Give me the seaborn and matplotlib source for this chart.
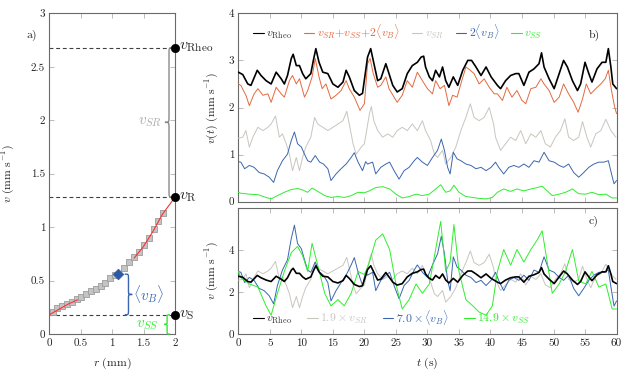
import numpy as np
import pandas as pd
import seaborn as sns
import matplotlib
matplotlib.use("Agg")
import matplotlib.pyplot as plt
from matplotlib.path import Path
from matplotlib.patches import PathPatch

# ---------------- data: panel a ----------------
r_squares = [0.06, 0.13, 0.21, 0.28, 0.36, 0.44, 0.51, 0.58, 0.66, 0.74, 0.82, 0.89,
             0.97, 1.05, 1.19, 1.27, 1.35, 1.42, 1.50, 1.58, 1.66, 1.73, 1.81]
v_squares = [0.21, 0.24, 0.26, 0.28, 0.30, 0.33, 0.35, 0.37, 0.40, 0.42, 0.45, 0.48,
             0.52, 0.55, 0.62, 0.67, 0.72, 0.77, 0.83, 0.90, 0.98, 1.06, 1.13]
fit_r_low = [0.0, 0.15, 0.30, 0.45]
fit_v_low = [0.18, 0.23, 0.28, 0.32]
fit_r_high = [1.35, 1.50, 1.65, 1.80, 1.90, 2.0]
fit_v_high = [0.71, 0.82, 0.96, 1.12, 1.20, 1.28]
r_vb, v_vb = 1.10, 0.56
r_wall = 2.0
v_rheo_a, v_R, v_S = 2.68, 1.28, 0.18

# ---------------- data: panels b, c ----------------
t_rheo = [0, 0.7, 1.5, 2.0, 3.0, 3.6, 4.4, 5.2, 6.0, 6.8, 7.3, 7.8, 8.4, 8.7, 9.2, 9.7,
          10.2, 10.7, 11.5, 11.9, 12.3, 12.8, 13.4, 14.2, 15.0, 15.8, 16.6, 17.1, 17.6,
          18.4, 19.2, 19.7, 20.5, 21.0, 21.4, 22.1, 22.6, 23.4, 23.9, 24.5, 25.2, 26.0,
          26.8, 27.6, 28.4, 29.0, 29.4, 29.7, 30.3, 30.8, 31.3, 31.9, 32.4, 32.9, 33.4,
          34.1, 34.8, 35.6, 36.4, 37.0, 37.7, 38.5, 39.3, 40.1, 41.1, 41.6, 42.4, 43.2,
          44.0, 44.5, 45.3, 46.1, 46.9, 47.7, 48.1, 48.5, 49.3, 50.1, 50.9, 51.6, 52.2,
          53.0, 53.8, 54.3, 55.0, 55.6, 56.1, 56.9, 57.7, 58.3, 58.7, 59.1, 59.4, 60.0]
v_rheo = [2.75, 2.70, 2.50, 2.47, 2.79, 2.68, 2.57, 2.50, 2.75, 2.61, 2.50, 2.68, 3.04, 3.13,
          2.89, 2.89, 2.72, 2.61, 2.72, 3.00, 3.25, 2.96, 2.75, 2.72, 2.50, 2.43, 2.54, 2.79,
          2.65, 2.36, 2.26, 2.30, 3.07, 3.25, 3.00, 2.57, 2.61, 2.93, 2.72, 2.47, 2.33, 2.40,
          2.72, 2.89, 2.96, 3.07, 3.09, 2.86, 2.65, 2.57, 2.79, 2.65, 2.86, 2.57, 2.43, 2.65,
          2.47, 2.79, 3.00, 3.00, 2.86, 2.68, 2.86, 2.65, 2.47, 2.40, 2.57, 2.68, 2.72, 2.72,
          2.47, 2.75, 2.82, 2.93, 3.16, 2.86, 2.61, 2.40, 2.72, 3.00, 2.86, 2.57, 2.36, 2.50,
          2.96, 2.72, 2.54, 2.82, 2.96, 2.96, 3.25, 2.86, 2.50, 2.40]

t_sum = [0.0, 0.4, 1.2, 1.75, 2.5, 3.1, 3.9, 4.7, 5.2, 6.0, 6.8, 7.3, 8.1, 8.6, 9.2, 9.7,
         10.5, 11.0, 11.7, 12.2, 12.8, 13.3, 13.9, 14.7, 15.5, 16.3, 17.1, 17.6, 18.4, 19.3,
         20.0, 20.5, 20.9, 21.4, 22.1, 22.6, 23.4, 23.9, 24.7, 25.2, 26.0, 26.8, 27.6, 28.4,
         29.2, 30.0, 30.8, 31.3, 32.0, 32.7, 33.4, 34.0, 34.7, 35.3, 36.1, 36.8, 37.4, 38.2,
         39.0, 39.8, 40.6, 41.1, 41.9, 42.6, 43.4, 44.2, 45.0, 45.6, 46.4, 47.2, 48.0, 48.5,
         49.3, 50.1, 50.9, 51.6, 52.4, 53.2, 53.9, 54.6, 55.2, 55.9, 56.7, 57.5, 58.2, 58.7,
         59.2, 59.7, 60.0]
v_sum = [2.50, 2.47, 2.26, 2.04, 2.29, 2.40, 2.26, 2.29, 2.11, 2.43, 2.29, 2.22, 2.57, 2.68,
         2.50, 2.61, 2.22, 2.36, 2.65, 3.04, 2.65, 2.40, 2.50, 2.18, 2.26, 2.36, 2.57, 2.40,
         2.22, 1.94, 2.08, 2.93, 3.04, 2.72, 2.43, 2.47, 2.65, 2.40, 2.22, 2.11, 2.26, 2.57,
         2.43, 2.75, 2.57, 2.40, 2.29, 2.57, 2.40, 2.47, 2.04, 2.26, 2.22, 2.50, 2.86, 2.79,
         2.72, 2.50, 2.61, 2.43, 2.29, 2.29, 2.15, 2.43, 2.22, 2.36, 2.15, 2.08, 2.40, 2.43,
         2.61, 2.50, 2.36, 2.11, 2.22, 2.50, 2.29, 2.11, 1.90, 2.18, 2.50, 2.29, 2.40, 2.50,
         2.61, 2.79, 2.36, 2.01, 1.87]

t_sr = [0.0, 0.7, 1.2, 1.75, 2.3, 3.1, 3.9, 4.7, 5.2, 5.9, 6.5, 7.0, 7.6, 8.1, 8.6, 9.2, 9.7,
        10.2, 10.7, 11.5, 12.1, 12.6, 13.4, 14.2, 15.0, 15.8, 16.6, 17.2, 17.6, 18.2, 18.7,
        19.5, 20.0, 20.8, 21.1, 21.5, 22.1, 22.9, 23.7, 24.5, 25.2, 26.0, 26.8, 27.6, 28.4,
        29.2, 29.7, 30.5, 31.1, 31.6, 32.4, 32.9, 33.7, 34.5, 35.3, 36.1, 36.8, 37.4, 38.2,
        39.0, 39.8, 40.5, 40.8, 41.6, 42.4, 43.2, 44.0, 44.8, 45.6, 46.4, 47.2, 48.0, 48.7,
        49.5, 50.3, 51.1, 51.8, 52.4, 53.2, 54.0, 54.6, 55.3, 55.9, 56.7, 57.5, 58.3, 59.1,
        59.9]
v_sr = [1.35, 1.37, 1.51, 1.16, 1.37, 1.58, 1.51, 1.58, 1.65, 1.82, 1.37, 1.44, 1.23, 1.01,
        0.66, 0.94, 0.66, 0.94, 1.16, 1.37, 1.79, 1.65, 1.58, 1.51, 1.58, 1.65, 1.72, 1.92,
        1.65, 1.23, 1.01, 1.16, 1.23, 1.87, 2.02, 1.72, 1.51, 1.37, 1.44, 1.37, 1.51, 1.58,
        1.51, 1.65, 1.51, 1.72, 1.51, 1.30, 1.01, 0.94, 1.09, 0.80, 0.94, 1.16, 1.51, 1.79,
        2.08, 1.79, 1.72, 1.79, 2.00, 1.65, 1.37, 1.09, 1.23, 1.37, 1.30, 1.51, 1.23, 1.44,
        1.37, 1.51, 1.23, 1.16, 1.37, 1.51, 1.76, 1.37, 1.30, 1.37, 1.70, 1.37, 1.16, 1.44,
        1.51, 1.75, 1.51, 1.37]

t_b = [0.0, 0.4, 1.0, 1.75, 2.5, 3.3, 4.1, 4.9, 5.6, 6.2, 7.0, 7.8, 8.4, 8.9, 9.4, 10.0,
       10.5, 11.0, 11.5, 12.2, 12.9, 13.5, 14.2, 14.7, 15.5, 16.3, 17.1, 17.9, 18.4, 19.0,
       19.7, 20.2, 20.5, 21.3, 21.8, 22.6, 23.4, 24.0, 24.7, 25.5, 26.3, 27.1, 27.9, 28.4,
       29.2, 30.0, 30.8, 31.6, 32.2, 32.7, 33.2, 33.6, 34.1, 34.7, 35.3, 36.1, 36.9, 37.7,
       38.5, 39.3, 40.1, 40.8, 41.3, 42.1, 42.9, 43.7, 44.5, 45.3, 46.1, 46.9, 47.7, 48.5,
       49.3, 50.1, 50.9, 51.6, 52.4, 53.2, 54.0, 54.8, 55.6, 56.4, 57.2, 58.0, 58.7, 59.2,
       59.6, 60.0]
v_2b = [0.85, 0.84, 0.70, 0.77, 0.73, 0.62, 0.59, 0.52, 0.41, 0.66, 0.87, 1.01, 1.30, 1.48,
        1.23, 1.16, 1.01, 0.87, 0.84, 0.98, 0.84, 0.80, 0.70, 0.45, 0.59, 0.70, 0.80, 0.94,
        1.04, 0.84, 0.66, 0.85, 0.80, 0.84, 0.59, 0.73, 0.80, 0.84, 0.66, 0.48, 0.66, 0.73,
        0.87, 0.94, 0.84, 0.77, 0.94, 1.09, 1.33, 1.09, 0.73, 0.59, 1.05, 0.91, 0.87, 0.80,
        0.77, 0.70, 0.73, 0.66, 0.73, 0.84, 0.73, 0.59, 0.73, 0.77, 0.73, 0.80, 0.73, 0.87,
        0.84, 1.05, 0.87, 0.84, 0.77, 0.73, 0.80, 0.62, 0.52, 0.62, 0.73, 0.80, 0.84, 0.84,
        0.87, 0.59, 0.38, 0.45]

t_ss = [0.0, 0.4, 1.75, 3.1, 4.4, 5.2, 6.2, 7.3, 8.4, 9.4, 10.2, 11.0, 11.7, 12.6, 13.7,
        14.7, 15.8, 16.8, 17.9, 19.0, 20.0, 20.8, 21.8, 22.9, 24.0, 25.0, 26.0, 27.1, 28.2,
        29.2, 30.3, 31.3, 32.1, 32.9, 33.6, 34.2, 35.0, 36.1, 37.2, 38.2, 39.3, 40.3, 41.1,
        42.1, 43.2, 44.2, 45.3, 46.4, 47.4, 48.2, 49.0, 49.8, 50.9, 51.9, 53.0, 54.0, 55.1,
        56.1, 57.2, 58.3, 59.3, 60.0]
v_ss = [0.20, 0.18, 0.16, 0.15, 0.09, 0.06, 0.13, 0.20, 0.26, 0.28, 0.25, 0.20, 0.29, 0.22,
        0.13, 0.09, 0.11, 0.09, 0.13, 0.20, 0.19, 0.23, 0.30, 0.32, 0.27, 0.16, 0.08, 0.11,
        0.16, 0.13, 0.16, 0.27, 0.36, 0.20, 0.23, 0.35, 0.20, 0.11, 0.09, 0.07, 0.06, 0.09,
        0.20, 0.27, 0.22, 0.27, 0.23, 0.27, 0.30, 0.33, 0.23, 0.13, 0.16, 0.20, 0.27, 0.17,
        0.16, 0.20, 0.15, 0.16, 0.08, 0.08]

k_sr, k_b, k_ss = 1.9, 7.0, 14.9

# ---------------- style ----------------
sns.set_theme(style="ticks")
plt.rcParams.update({
    "font.family": "serif",
    "font.serif": ["cmr10", "DejaVu Serif"],
    "mathtext.fontset": "cm",
    "axes.formatter.use_mathtext": True,
    "axes.unicode_minus": False,
})

C_RHEO = "#000000"
C_SUM = "#E4693F"
C_SR = "#C9C5BF"
C_B = "#3A66B0"
C_SS = "#2EEE2E"
C_RED = "#FF3030"

fig = plt.figure(figsize=(6.31, 3.75), dpi=100)
ax_a = fig.add_axes([0.0781, 0.1093, 0.1992, 0.8552])
ax_b = fig.add_axes([0.3777, 0.4621, 0.5994, 0.5024])
ax_c = fig.add_axes([0.3777, 0.1093, 0.5994, 0.3360])


def style(ax):
    for s in ax.spines.values():
        s.set_color("#6a6a6a")
        s.set_linewidth(0.8)
    ax.tick_params(direction="in", top=True, right=True, length=3.5, width=0.6,
                   color="#b0b0b0", labelsize=8, pad=3, labelcolor="#222222")


def brace(ax, x, y0, y1, w, d, color, q, lw=1.0):
    xm = x + d * w / 2
    xt = x + d * w
    ym = (y0 + y1) / 2
    verts = [(x, y0), (xm, y0), (xm, y0), (xm, y0 + q),
             (xm, ym - q),
             (xm, ym), (xm, ym), (xt, ym),
             (xm, ym), (xm, ym), (xm, ym + q),
             (xm, y1 - q),
             (xm, y1), (xm, y1), (x, y1)]
    codes = [Path.MOVETO, Path.CURVE4, Path.CURVE4, Path.CURVE4,
             Path.LINETO,
             Path.CURVE4, Path.CURVE4, Path.CURVE4,
             Path.CURVE4, Path.CURVE4, Path.CURVE4,
             Path.LINETO,
             Path.CURVE4, Path.CURVE4, Path.CURVE4]
    ax.add_patch(PathPatch(Path(verts, codes), fc="none", ec=color, lw=lw,
                           clip_on=False, zorder=6))


# ---------------- panel a ----------------
style(ax_a)
for lvl in (v_rheo_a, v_R, v_S):
    ax_a.plot([0, r_wall], [lvl, lvl], ls=(0, (3.5, 2.5)), color="#404040", lw=0.8, zorder=2)
sns.scatterplot(x=r_squares, y=v_squares, ax=ax_a, marker="s", s=22, color="#C4C4C4",
                edgecolor="#9C9C9C", linewidth=0.6, zorder=3)
sns.lineplot(x=fit_r_low, y=fit_v_low, ax=ax_a, color=C_RED, lw=0.8, zorder=4)
sns.lineplot(x=fit_r_high, y=fit_v_high, ax=ax_a, color=C_RED, lw=0.8, zorder=4)
sns.scatterplot(x=[r_vb], y=[v_vb], ax=ax_a, marker="D", s=30, color="#2B5BA6",
                edgecolor="#2B5BA6", zorder=5)
sns.scatterplot(x=[r_wall] * 3, y=[v_rheo_a, v_R, v_S], ax=ax_a, s=36, color="black",
                edgecolor="black", zorder=7, clip_on=False)

ax_a.set_xlim(0, 2)
ax_a.set_ylim(0, 3)
ax_a.set_xticks([0, 0.5, 1, 1.5, 2])
ax_a.set_xticklabels(["0", "0.5", "1", "1.5", "2"])
ax_a.set_yticks([0, 0.5, 1, 1.5, 2, 2.5, 3])
ax_a.set_yticklabels(["0", "0.5", "1", "1.5", "2", "2.5", "3"])
ax_a.set_xlabel(r"$r\ (\mathrm{mm})$", fontsize=8.5, labelpad=6)
ax_a.set_ylabel(r"$v\ (\mathrm{mm\ s^{-1}})$", fontsize=8.5)
ax_a.yaxis.set_label_coords(-0.26, 0.5)

brace(ax_a, 1.97, v_R, v_rheo_a, 0.13, -1, "#8a8a8a", 0.06)
ax_a.text(1.6, (v_R + v_rheo_a) / 2, r"$v_{SR}$", color="#A8A8A8", fontsize=11,
          ha="center", va="center")
brace(ax_a, 1.20, v_S, v_vb, 0.12, +1, "#3A66B0", 0.04)
ax_a.text(1.58, (v_S + v_vb) / 2, r"$\langle v_B\rangle$", color="#3A66B0", fontsize=11,
          ha="center", va="center")
brace(ax_a, 1.92, 0.0, v_S, 0.09, -1, C_SS, 0.025)
ax_a.text(1.56, v_S / 2 - 0.01, r"$v_{SS}$", color=C_SS, fontsize=11, ha="center", va="center")

ax_a.text(2.06, v_rheo_a, r"$v_{\mathrm{Rheo}}$", fontsize=11.5, va="center", ha="left",
          clip_on=False)
ax_a.text(2.06, v_R, r"$v_{\mathrm{R}}$", fontsize=11.5, va="center", ha="left", clip_on=False)
ax_a.text(2.06, v_S, r"$v_{\mathrm{S}}$", fontsize=11.5, va="center", ha="left", clip_on=False)
ax_a.text(-0.14, 0.93, "a)", transform=ax_a.transAxes, fontsize=8.5, ha="center", va="center")

# ---------------- panel b ----------------
style(ax_b)
sns.lineplot(x=t_rheo, y=v_rheo, ax=ax_b, color=C_RHEO, lw=1.2, zorder=6,
             label=r"$v_{\mathrm{Rheo}}$", sort=False)
sns.lineplot(x=t_sum, y=v_sum, ax=ax_b, color=C_SUM, lw=0.7, zorder=5,
             label=r"$v_{SR}{+}v_{SS}{+}2\langle v_B\rangle$", sort=False)
sns.lineplot(x=t_sr, y=v_sr, ax=ax_b, color=C_SR, lw=0.7, zorder=3,
             label=r"$v_{SR}$", sort=False)
sns.lineplot(x=t_b, y=v_2b, ax=ax_b, color=C_B, lw=0.7, zorder=4,
             label=r"$2\langle v_B\rangle$", sort=False)
sns.lineplot(x=t_ss, y=v_ss, ax=ax_b, color=C_SS, lw=0.7, zorder=4,
             label=r"$v_{SS}$", sort=False)
ax_b.set_xlim(0, 60)
ax_b.set_ylim(0, 4)
ax_b.set_xticks(range(0, 61, 5))
ax_b.set_xticklabels([])
ax_b.set_yticks([0, 1, 2, 3, 4])
ax_b.set_yticklabels(["0", "1", "2", "3", "4"])
ax_b.set_xlabel("")
ax_b.set_ylabel(r"$v(t)\ (\mathrm{mm\ s^{-1}})$", fontsize=8.5)
ax_b.yaxis.set_label_coords(-0.045, 0.5)
h, l = ax_b.get_legend_handles_labels()
leg = ax_b.legend(h, l, ncol=5, loc="upper left", bbox_to_anchor=(0.02, 0.99),
                  frameon=False, handlelength=0.9, handletextpad=0.2, columnspacing=1.0,
                  fontsize=8.5, labelcolor="linecolor", borderaxespad=0.2)
for line in leg.get_lines():
    line.set_linewidth(0.8)
leg.get_texts()[0].set_color("#333333")
ax_b.text(0.94, 0.885, "b)", transform=ax_b.transAxes, fontsize=8.5, ha="center", va="center")

# ---------------- panel c ----------------
style(ax_c)
sns.lineplot(x=t_rheo, y=v_rheo, ax=ax_c, color=C_RHEO, lw=1.2, zorder=6,
             label=r"$v_{\mathrm{Rheo}}$", sort=False)
sns.lineplot(x=t_sr, y=k_sr * np.array(v_sr), ax=ax_c, color=C_SR, lw=0.7, zorder=3,
             label=r"$1.9\times v_{SR}$", sort=False)
sns.lineplot(x=t_b, y=k_b / 2 * np.array(v_2b), ax=ax_c, color=C_B, lw=0.7, zorder=4,
             label=r"$7.0\times\langle v_B\rangle$", sort=False)
sns.lineplot(x=t_ss, y=k_ss * np.array(v_ss), ax=ax_c, color=C_SS, lw=0.7, zorder=5,
             label=r"$14.9\times v_{SS}$", sort=False)
ax_c.set_xlim(0, 60)
ax_c.set_ylim(0, 6)
ax_c.set_xticks(range(0, 61, 5))
ax_c.set_xticklabels([str(v) for v in range(0, 61, 5)])
ax_c.set_yticks([0, 2, 4])
ax_c.set_yticklabels(["0", "2", "4"])
ax_c.set_xlabel(r"$t\ (\mathrm{s})$", fontsize=8.5, labelpad=6)
ax_c.set_ylabel(r"$v\ (\mathrm{mm\ s^{-1}})$", fontsize=8.5)
ax_c.yaxis.set_label_coords(-0.045, 0.5)
h, l = ax_c.get_legend_handles_labels()
leg = ax_c.legend(h, l, ncol=4, loc="lower left", bbox_to_anchor=(0.02, 0.0),
                  frameon=False, handlelength=0.9, handletextpad=0.2, columnspacing=1.3,
                  fontsize=8.5, labelcolor="linecolor", borderaxespad=0.2)
for line in leg.get_lines():
    line.set_linewidth(0.8)
leg.get_texts()[0].set_color("#333333")
ax_c.text(0.94, 0.89, "c)", transform=ax_c.transAxes, fontsize=8.5, ha="center", va="center")

fig.savefig("out.png", dpi=100)
